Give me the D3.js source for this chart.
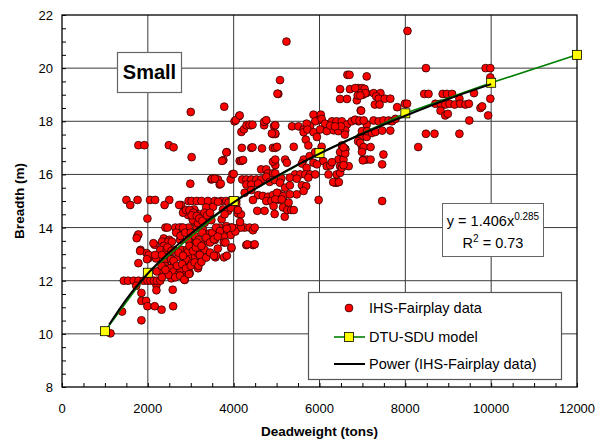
<!DOCTYPE html>
<html>
<head>
<meta charset="utf-8">
<script src="https://cdn.jsdelivr.net/npm/d3@7"></script>
<style>
body { margin: 0; background: #fff; }
text { font-family: Arial, "Liberation Sans", sans-serif; fill: #000; }
</style>
</head>
<body>
<div id="chart"></div>
<script>
// IHS-Fairplay data: [deadweight (tons), breadth (m)]
const ihsPoints = [
  [5230,21.0],[8050,21.4],[8480,20.0],[9870,20.0],[9980,20.0],[9980,19.65],[5080,19.55],[5040,19.03],[3000,18.35],[3780,18.55],
  [1780,17.1],[1920,17.1],[2490,17.1],[2600,17.02],[3020,16.65],[3840,16.84],[3760,16.54],[2990,15.65],
  [1500,15.04],[1590,14.85],[1760,15.04],[2050,15.04],[2170,15.04],[2500,15.04],[2390,14.85],[2775,14.85],[1990,14.34],
  [1760,13.69],[1780,13.74],[1830,13.16],[1780,12.66],[1970,13.04],[2010,12.84],[2160,13.35],[2370,13.59],[2500,13.54],
  [2410,14.0],[2460,14.0],[2530,12.84],[2410,12.69],[2190,12.84],[2200,11.83],[2200,11.64],
  [1440,12.0],[1540,12.0],[1670,12.0],[1780,12.0],[1900,12.0],[1990,12.0],[2060,12.0],[2140,12.0],[2210,12.0],[2290,12.0],
  [1730,11.81],[1850,11.54],[1850,11.24],[1960,11.24],[1990,11.04],[2160,11.04],[2320,10.91],[2580,11.66],[2590,11.04],
  [1850,10.51],[1400,10.84],[1130,10.02],[2550,12.09],[2670,12.56],
  [2950,15.0],[3020,15.0],[3140,15.0],[2950,14.5],[3100,14.6],[3050,14.3],[3100,14.2],
  [2640,14.0],[2780,14.0],[2950,14.0],[3140,14.0],[1740,13.6],[2750,13.54],[2990,13.54],[2330,13.47],[2480,13.47],[2560,13.47],
  [2130,13.41],[2370,13.31],[2990,13.31],[1820,13.12],[2290,13.16],[2440,13.16],[2600,13.16],[2790,13.16],[2910,13.16],
  [2020,12.97],[2170,12.97],[2330,12.97],[2710,12.9],[2830,12.9],[2990,12.9],[3100,12.9],[1980,12.81],[2540,12.81],
  [2400,12.56],[2600,12.56],[2790,12.56],[2950,12.56],[2370,12.47],[2520,12.47],[2740,12.47],[2210,12.35],[2370,12.35],
  [2600,12.35],[2750,12.35],[2950,12.35],[2480,12.22],[2710,12.22],[2870,12.22],[2330,12.13],[2640,12.13],[2830,12.13],
  [4020,18.0],[4130,18.2],[4180,17.6],[4240,17.7],[4300,17.85],[4400,17.85],[4710,17.85],[4710,17.98],[4940,17.82],[4915,17.52],[4970,17.52],
  [3830,16.83],[3730,16.51],[4140,16.51],[4180,16.51],[4190,17.0],[4410,17.0],[4660,16.98],[4915,17.0],[4970,17.0],
  [4640,16.19],[4760,16.19],[4970,16.35],[4915,16.48],[4800,16.04],[4915,16.04],[4970,16.04],
  [3480,15.81],[3635,15.81],[3674,15.62],[3930,15.81],[3970,16.01],[4200,15.81],[4295,15.81],[4410,15.81],[4530,15.81],[4640,15.81],
  [4295,15.62],[4410,15.62],[4570,15.66],[4760,15.91],[4840,15.72],[4955,15.79],[5110,15.85],[4256,15.31],
  [4410,15.41],[4570,15.22],[4450,15.04],[4680,15.19],[4800,15.16],[4915,15.22],[5050,15.29],[4760,15.0],[4880,15.0],
  [5070,15.04],[5150,14.76],[4550,14.63],[4720,14.63],[4955,14.51],
  [3250,15.0],[3400,15.0],[3560,15.0],[3710,15.0],[3830,15.0],[3946,15.0],[4060,15.0],
  [3080,14.68],[3210,14.5],[3360,14.76],[3520,14.78],[3635,14.97],[3750,14.68],[4060,14.88],[4100,14.53],[2940,14.47],[3050,14.28],[3870,14.63],
  [3170,14.16],[3325,14.18],[3480,14.28],[3674,14.0],[3830,14.05],[3946,14.0],[4100,14.0],[4256,14.0],[4370,14.0],[4450,13.9],
  [3285,13.91],[3440,13.78],[3635,13.72],[3790,13.88],[3930,13.72],[3015,13.72],[3130,13.53],[3250,13.38],[3400,13.47],[3560,13.53],
  [2940,13.53],[3050,13.28],[3170,13.03],[2940,13.09],[2900,12.78],[3325,13.16],[3210,12.97],[3946,13.22],[4295,13.34],[4450,13.34],
  [3015,12.65],[3170,12.47],[3575,12.88],[3775,12.88],[2976,12.28],[2860,12.03],
  [4490,14.0],[4170,14.0],[4040,13.85],[3770,13.66],[3770,13.44],[3810,13.44],[3590,12.94],[4170,14.5],[4100,14.66],[4150,14.21],
  [2730,14.85],[2820,14.56],[2890,14.66],[2970,14.66],[3060,14.56],[3020,14.46],[3140,14.44],[3200,14.34],[3270,14.25],
  [3320,14.56],[3380,14.46],[3450,14.56],[2730,14.0],[2820,14.0],[2660,13.81],[2760,13.69],[2870,13.81],
  [3000,13.81],[3090,13.69],[3180,13.54],[3270,13.81],[3360,13.62],[3450,13.44],[2970,13.31],[3050,13.12],[3120,13.25],
  [2710,13.06],[2820,12.94],[2600,12.75],[2680,12.56],[2800,12.62],[2890,12.46],[3000,12.56],[3090,12.69],
  [2750,12.19],[2850,12.04],[2960,12.25],[3180,12.56],[3250,12.71],[3360,12.87],[3450,13.06],[3540,12.94],[3630,13.21],
  [2460,13.25],[2550,13.12],[2320,12.56],[2410,12.41],[3140,13.44],[3250,13.31],[3500,13.81],[3590,14.0],[3680,13.87],
  [3540,13.56],[3630,13.66],[3720,14.31],[3790,14.5],[3880,14.94],[3930,14.75],
  [5020,19.04],[6650,19.75],[6700,19.75],[7100,19.69],[6480,19.21],[6710,19.21],[6910,19.21],[7040,19.21],[7090,19.06],
  [6480,18.84],[6640,18.84],[6870,18.79],[7010,19.0],[6960,18.41],[5860,18.25],[6030,18.25],[5980,18.04],[5900,18.0],[6050,18.09],
  [4970,17.85],[4970,17.54],[5010,17.04],[5360,17.81],[5510,17.81],[5630,17.69],[5780,17.81],[5700,17.91],
  [6130,17.91],[6290,18.0],[6400,18.0],[6520,18.0],[6640,17.88],[6750,18.0],[6910,18.0],[7100,17.88],
  [5630,17.59],[5720,17.69],[5860,17.59],[6015,17.69],[6170,17.63],[6330,17.66],[6440,17.63],[6600,17.66],[6500,17.81],[6250,17.84],[6360,17.81],
  [5680,17.31],[5940,17.41],[5400,17.04],[5740,17.09],[6050,17.04],[6520,17.09],[6600,16.96],[6990,17.04],[6950,17.41],[7100,17.41],
  [4970,16.56],[5200,16.56],[5630,16.56],[5770,16.69],[5900,16.84],[6015,16.84],[6480,16.84],[6600,16.94],[7020,16.56],[7100,16.56],
  [6440,16.56],[6560,16.56],[6090,16.5],[6170,16.31],[6250,16.34],[5860,16.44],[5940,16.38],[5590,16.41],[5700,16.25],[6480,16.31],[6680,16.31],[5240,16.44],
  [5430,16.0],[5550,16.0],[5670,16.0],[5780,16.0],[5900,16.0],[6210,16.0],[6400,16.0],[6480,16.06],[6360,15.69],[6400,15.69],[6320,15.71],[6520,16.25],
  [5310,15.88],[5470,15.84],[5740,15.88],[5590,15.59],[5690,15.56],[5470,15.25],[5080,15.69],[5200,15.5],[5310,15.59],
  [5010,15.31],[5160,15.19],[5310,15.25],[5630,15.38],[4970,15.06],[5120,15.06],[5280,14.94],[4930,14.81],[5980,15.04],
  [5190,14.41],[5250,14.66],[5340,14.66],[5400,14.66],
  [6900,19.25],[6990,19.25],[7050,19.22],[6950,19.06],[7070,19.06],[7260,19.06],[7420,19.06],[7320,18.94],[7380,18.85],[7520,18.85],[7650,18.85],
  [7290,18.63],[7400,18.63],[7810,18.53],[7990,18.66],[8040,18.66],[8440,19.03],[8540,19.03],[8870,19.03],[8970,19.03],[9090,19.03],
  [9260,18.85],[9600,19.06],[8700,18.66],[8820,18.66],[8930,18.63],[9030,18.66],[9150,18.63],[9280,18.66],[9400,18.63],[9480,18.66],
  [8820,18.4],[8930,18.22],[8990,18.28],[9750,18.5],[9790,18.56],[9490,18.03],[9980,18.85],[9930,18.22],
  [6970,18.4],[6830,18.06],[6930,18.03],[7030,18.03],[7260,18.03],[7380,18.0],[7490,18.03],[7610,18.03],[7690,18.0],[7770,18.09],
  [6990,17.63],[7110,17.63],[7220,17.56],[7300,17.6],[7460,17.65],[7650,17.65],[6900,17.25],[6950,17.19],[7030,17.03],[7190,17.03],
  [6990,16.85],[7190,16.56],[7010,16.53],[7490,16.75],[7460,16.38],[8480,17.53],[8680,17.53],[9260,17.53],[8300,17.03],[7460,15.0],
  [6830,19.25],[6890,18.97],[6950,18.97],
  [6560,16.35],[6600,16.79],[6560,17.02],[6590,17.5],[6290,16.46],[6450,15.71],
  [4000,16.02],[4220,16.54],[4440,17.02],[4890,17.54],[4050,18.04],[4140,18.22],[4370,17.87],[4440,17.87],[4760,18.04],
  [3500,15.84],[3560,15.84],[3700,15.65],[4320,13.37],[4490,13.37],[3960,14.0],[3840,13.96],[3950,13.25],[3840,12.94]
];

// DTU-SDU model
const modelDwt = [1000, 2000, 4000, 6000, 8000, 10000, 12000];
const modelBreadth = [10.1, 12.3, 15.0, 16.8, 18.3, 19.45, 20.5];

// Power trend line (IHS-Fairplay data)
const powerDwt = [1100, 1500, 2000, 2500, 3000, 4000, 5000, 6000, 7000, 8000, 9000, 10000];
const powerBreadth = [10.35, 11.3, 12.27, 13.07, 13.77, 14.95, 15.93, 16.78, 17.53, 18.21, 18.84, 19.4];

const xTicks = [0, 2000, 4000, 6000, 8000, 10000, 12000];
const yTicks = [8, 10, 12, 14, 16, 18, 20, 22];

const svgWidth = 608, svgHeight = 445;
const margin = { top: 15, right: 31, bottom: 58, left: 62 };
const width = svgWidth - margin.left - margin.right;
const height = svgHeight - margin.top - margin.bottom;

const svg = d3.select("#chart")
    .append("svg")
    .attr("width", svgWidth)
    .attr("height", svgHeight)
    .style("display", "block");

const g = svg.append("g")
    .attr("transform", `translate(${margin.left}, ${margin.top})`);

const x = d3.scaleLinear().domain([0, 12000]).range([0, width]);
const y = d3.scaleLinear().domain([8, 22]).range([height, 0]);

// Rejilla
g.append("g")
    .selectAll("line.vgrid")
    .data(xTicks.slice(1, -1))
    .enter().append("line")
    .attr("x1", d => x(d)).attr("x2", d => x(d))
    .attr("y1", 0).attr("y2", height)
    .attr("stroke", "#3a3a3a").attr("stroke-width", 1);

g.append("g")
    .selectAll("line.hgrid")
    .data(yTicks.slice(1, -1))
    .enter().append("line")
    .attr("x1", 0).attr("x2", width)
    .attr("y1", d => y(d)).attr("y2", d => y(d))
    .attr("stroke", "#3a3a3a").attr("stroke-width", 1);

// Ejes con marcas menores hacia dentro
const xAxis = g.append("g")
    .attr("transform", `translate(0, ${height})`)
    .call(d3.axisBottom(x).tickValues(d3.range(0, 12001, 500)).tickSize(-4).tickFormat(""));
xAxis.select(".domain").remove();
xAxis.selectAll("line").attr("stroke", "#000");

const yAxis = g.append("g")
    .call(d3.axisLeft(y).tickValues(d3.range(8, 22.01, 0.5)).tickSize(-4).tickFormat(""));
yAxis.select(".domain").remove();
yAxis.selectAll("line").attr("stroke", "#000");

g.append("g")
    .selectAll("text")
    .data(xTicks)
    .enter().append("text")
    .attr("x", d => x(d))
    .attr("y", height + 26)
    .attr("text-anchor", "middle")
    .style("font-size", "13px")
    .text(d => d);

g.append("g")
    .selectAll("text")
    .data(yTicks)
    .enter().append("text")
    .attr("x", -9)
    .attr("y", d => y(d) + 5)
    .attr("text-anchor", "end")
    .style("font-size", "13px")
    .text(d => d);

// Marco
g.append("rect")
    .attr("width", width).attr("height", height)
    .attr("fill", "none").attr("stroke", "#000").attr("stroke-width", 1.3);

// Títulos de ejes
svg.append("text")
    .attr("x", margin.left + width / 2)
    .attr("y", 436)
    .attr("text-anchor", "middle")
    .style("font-size", "13.5px").style("font-weight", "bold")
    .text("Deadweight (tons)");

svg.append("text")
    .attr("transform", `translate(24, ${margin.top + height / 2}) rotate(-90)`)
    .attr("text-anchor", "middle")
    .style("font-size", "13.5px").style("font-weight", "bold")
    .text("Breadth (m)");

// Puntos IHS-Fairplay
g.append("g")
    .selectAll("circle")
    .data(ihsPoints)
    .enter().append("circle")
    .attr("cx", d => x(d[0]))
    .attr("cy", d => y(d[1]))
    .attr("r", 3.9)
    .attr("fill", "#ff0000")
    .attr("stroke", "#2a0000")
    .attr("stroke-width", 0.8);

// Modelo DTU-SDU
const modelData = modelDwt.map((d, i) => [d, modelBreadth[i]]);
g.append("path")
    .datum(modelData)
    .attr("fill", "none")
    .attr("stroke", "#008000")
    .attr("stroke-width", 1.6)
    .attr("d", d3.line().x(d => x(d[0])).y(d => y(d[1])));

g.append("g")
    .selectAll("rect")
    .data(modelData)
    .enter().append("rect")
    .attr("x", d => x(d[0]) - 4.5)
    .attr("y", d => y(d[1]) - 4.5)
    .attr("width", 9).attr("height", 9)
    .attr("fill", "#ffff00")
    .attr("stroke", "#000")
    .attr("stroke-width", 0.8);

// Tendencia potencial
const powerData = powerDwt.map((d, i) => [d, powerBreadth[i]]);
g.append("path")
    .datum(powerData)
    .attr("fill", "none")
    .attr("stroke", "#000")
    .attr("stroke-width", 2)
    .attr("d", d3.line().curve(d3.curveMonotoneX).x(d => x(d[0])).y(d => y(d[1])));

// Cuadro "Small"
svg.append("rect")
    .attr("x", 117.5).attr("y", 52.5).attr("width", 64).attr("height", 40)
    .attr("fill", "#fff").attr("stroke", "#666").attr("stroke-width", 1.2);
svg.append("text")
    .attr("x", 149.5).attr("y", 79)
    .attr("text-anchor", "middle")
    .style("font-size", "20px").style("font-weight", "bold")
    .text("Small");

// Ecuación
svg.append("rect")
    .attr("x", 442.5).attr("y", 203.5).attr("width", 101).attr("height", 53)
    .attr("fill", "#fff").attr("stroke", "#666").attr("stroke-width", 1);
const eq = svg.append("text")
    .attr("x", 493).attr("y", 226)
    .attr("text-anchor", "middle")
    .style("font-size", "14.5px");
eq.append("tspan").text("y = 1.406x");
eq.append("tspan").attr("dy", -6).style("font-size", "10px").text("0.285");
const r2 = svg.append("text")
    .attr("x", 493).attr("y", 248)
    .attr("text-anchor", "middle")
    .style("font-size", "14.5px");
r2.append("tspan").text("R");
r2.append("tspan").attr("dy", -6).style("font-size", "10px").text("2");
r2.append("tspan").attr("dy", 6).text(" = 0.73");

// Leyenda
const legend = svg.append("g");
legend.append("rect")
    .attr("x", 308.5).attr("y", 292.5).attr("width", 253).attr("height", 87)
    .attr("fill", "#fff").attr("stroke", "#555").attr("stroke-width", 1.2);

legend.append("circle").attr("cx", 349).attr("cy", 308).attr("r", 3.9)
    .attr("fill", "#ff0000").attr("stroke", "#2a0000").attr("stroke-width", 0.8);
legend.append("text").attr("x", 369).attr("y", 313).style("font-size", "14.5px").text("IHS-Fairplay data");

legend.append("line").attr("x1", 334).attr("x2", 365).attr("y1", 337).attr("y2", 337)
    .attr("stroke", "#008000").attr("stroke-width", 1.6);
legend.append("rect").attr("x", 344.5).attr("y", 332.5).attr("width", 9).attr("height", 9)
    .attr("fill", "#ffff00").attr("stroke", "#000").attr("stroke-width", 0.8);
legend.append("text").attr("x", 369).attr("y", 342).style("font-size", "14.5px").text("DTU-SDU model");

legend.append("line").attr("x1", 334).attr("x2", 365).attr("y1", 364).attr("y2", 364)
    .attr("stroke", "#000").attr("stroke-width", 2);
legend.append("text").attr("x", 369).attr("y", 369).style("font-size", "14.5px").text("Power (IHS-Fairplay data)");
</script>
</body>
</html>
